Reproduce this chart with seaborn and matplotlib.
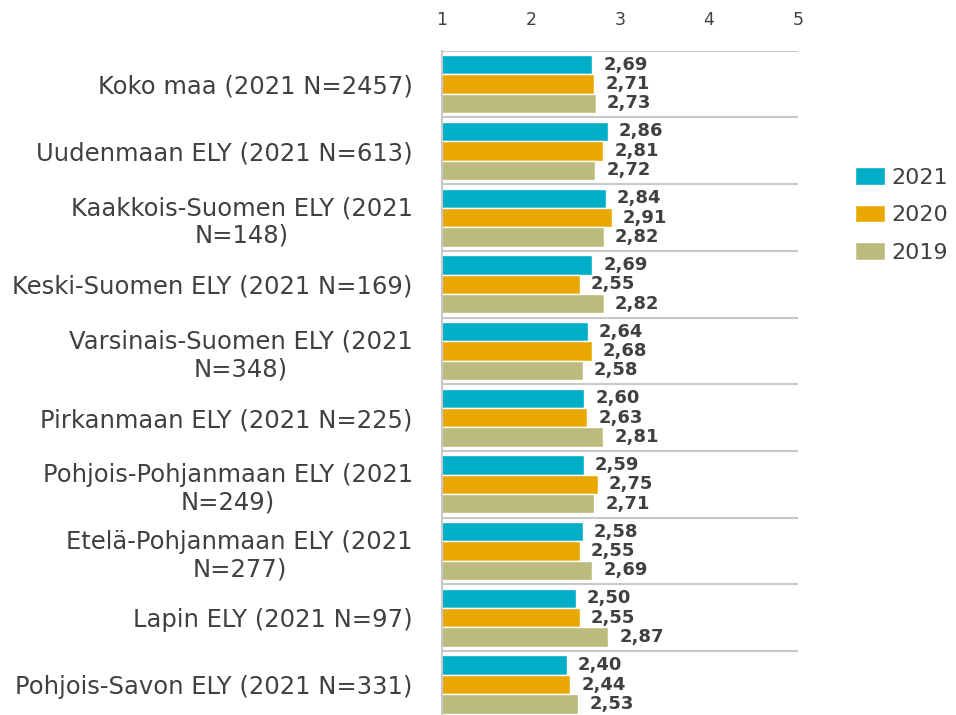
import pandas as pd
import matplotlib
matplotlib.use('Agg')
import matplotlib.pyplot as plt
import seaborn as sns

regions = [
    'Koko maa (2021 N=2457)',
    'Uudenmaan ELY (2021 N=613)',
    'Kaakkois-Suomen ELY (2021\nN=148)',
    'Keski-Suomen ELY (2021 N=169)',
    'Varsinais-Suomen ELY (2021\nN=348)',
    'Pirkanmaan ELY (2021 N=225)',
    'Pohjois-Pohjanmaan ELY (2021\nN=249)',
    'Etelä-Pohjanmaan ELY (2021\nN=277)',
    'Lapin ELY (2021 N=97)',
    'Pohjois-Savon ELY (2021 N=331)',
]
years = ['2021', '2020', '2019']
v2021 = [2.69, 2.86, 2.84, 2.69, 2.64, 2.60, 2.59, 2.58, 2.50, 2.40]
v2020 = [2.71, 2.81, 2.91, 2.55, 2.68, 2.63, 2.75, 2.55, 2.55, 2.44]
v2019 = [2.73, 2.72, 2.82, 2.82, 2.58, 2.81, 2.71, 2.69, 2.87, 2.53]
colors = ['#00AEC7', '#E8A800', '#BCBB7E']

rows = []
for yr, vals in zip(years, [v2021, v2020, v2019]):
    for r, v in zip(regions, vals):
        rows.append({'region': r, 'year': yr, 'value': v})
df = pd.DataFrame(rows)

sns.set_style('white')
txt = '#404040'

fig = plt.figure(figsize=(9.56, 7.15), dpi=100)
ax = fig.add_axes([442 / 956, -0.004, (798 - 442) / 956, 0.933])

sns.barplot(data=df, x='value', y='region', hue='year', order=regions,
            hue_order=years, palette=colors, saturation=1, orient='h',
            width=0.87, edgecolor='white', linewidth=1, ax=ax)

for cont in ax.containers:
    labels = [f'{v:.2f}'.replace('.', ',') for v in cont.datavalues]
    ax.bar_label(cont, labels=labels, padding=8, fontsize=13,
                 fontweight='bold', color=txt)

ax.set_xlim(1, 5)
ax.set_ylim(len(regions) - 0.5, -0.5)
ax.xaxis.tick_top()
ax.set_xticks([1, 2, 3, 4, 5])
ax.tick_params(axis='x', length=0, pad=16, labelsize=12.5, labelcolor=txt)
ax.tick_params(axis='y', length=0, pad=21, labelsize=17.5, labelcolor=txt)
for lab in ax.get_yticklabels():
    lab.set_multialignment('center')
ax.set_xlabel('')
ax.set_ylabel('')

for s in ['top', 'right', 'bottom']:
    ax.spines[s].set_visible(False)
ax.spines['left'].set_color('#C8C8C8')
ax.spines['left'].set_linewidth(1.5)

for i in range(len(regions)):
    ax.axhline(i - 0.5, color='#C8C8C8', linewidth=1.5, zorder=0.5)

handles, labs = ax.get_legend_handles_labels()
ax.legend(handles, labs, loc='center left', bbox_to_anchor=(855 / 956, 1 - 215 / 715),
          bbox_transform=fig.transFigure, frameon=False, fontsize=16,
          borderpad=0, borderaxespad=0, handlelength=1.35, handleheight=0.85,
          labelspacing=0.76, handletextpad=0.3, labelcolor=txt)

fig.savefig('out.png', dpi=100)
